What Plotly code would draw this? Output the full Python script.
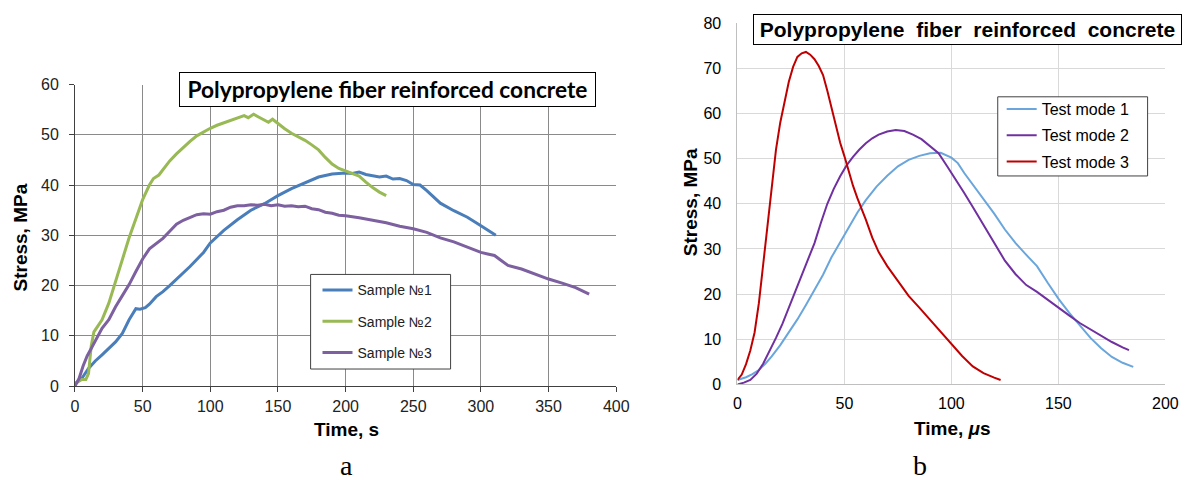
import plotly.graph_objects as go

# ---------------- Panel a data ----------------
s1_t = [0, 5, 10, 15, 20, 25, 30, 35, 40, 45, 48, 52, 55, 60, 65, 70, 75, 80, 85, 90, 95, 100,
        110, 120, 130, 140, 150, 160, 170, 180, 190, 200, 205, 210, 215, 220, 225, 230, 235,
        240, 245, 250, 255, 260, 265, 270, 280, 290, 300, 311]
s1_v = [0.5, 1.5, 3.5, 5.0, 6.2, 7.5, 8.8, 10.5, 13.2, 15.4, 15.3, 15.6, 16.3, 17.8, 18.8, 20.0,
        21.2, 22.5, 23.8, 25.2, 26.6, 28.5, 31.0, 33.1, 35.0, 36.3, 37.9, 39.3, 40.5, 41.6, 42.2,
        42.4, 42.3, 42.6, 42.1, 41.9, 41.6, 41.8, 41.2, 41.3, 40.9, 40.1, 40.0, 38.9, 37.6, 36.4,
        34.9, 33.6, 31.9, 30.0]

s2_t = [0, 3, 5, 8, 10, 12, 14, 17, 20, 25, 30, 35, 40, 45, 50, 55, 58, 62, 66, 70, 75, 80, 85,
        90, 95, 100, 105, 110, 115, 120, 125, 128, 132, 136, 140, 143, 146, 150, 155, 160, 165,
        170, 175, 180, 185, 190, 195, 200, 205, 210, 215, 220, 225, 230]
s2_v = [0.5, 1.0, 1.3, 1.3, 2.5, 8.0, 10.8, 12.0, 13.2, 16.5, 20.8, 25.4, 29.5, 33.3, 37.1, 40.0,
        41.3, 42.0, 43.5, 44.8, 46.2, 47.5, 48.7, 49.8, 50.6, 51.3, 51.9, 52.4, 52.9, 53.3, 53.8,
        53.4, 54.1, 53.5, 52.9, 52.5, 53.1, 52.2, 51.2, 50.3, 49.6, 48.9, 48.0, 47.0, 45.5, 44.2,
        43.3, 42.8, 42.4, 41.8, 40.6, 39.5, 38.6, 37.9]

s3_t = [0, 3, 6, 9, 12, 15, 20, 25, 30, 35, 40, 45, 50, 55, 60, 65, 70, 75, 80, 85, 90, 95, 100,
        105, 110, 115, 120, 125, 130, 135, 140, 145, 150, 155, 160, 165, 170, 175, 180, 185, 190,
        195, 200, 210, 220, 230, 240, 250, 260, 270, 280, 290, 300, 305, 310, 315, 320, 330, 340,
        350, 360, 370, 380]
s3_v = [0.0, 1.5, 4.0, 6.0, 7.5, 9.0, 11.5, 13.2, 15.8, 18.0, 20.2, 22.8, 25.3, 27.3, 28.3, 29.4,
        30.8, 32.2, 33.0, 33.6, 34.1, 34.3, 34.2, 34.7, 35.0, 35.6, 35.9, 35.9, 36.1, 36.0, 36.2,
        35.9, 36.1, 35.8, 35.9, 35.7, 35.8, 35.3, 35.1, 34.6, 34.4, 34.0, 33.9, 33.5, 33.0, 32.5,
        31.8, 31.3, 30.6, 29.5, 28.7, 27.6, 26.6, 26.3, 26.0, 25.0, 24.0, 23.3, 22.3, 21.3, 20.5,
        19.6, 18.3]

# ---------------- Panel b data ----------------
m1_t = [0, 2, 4, 7, 10, 13, 16, 20, 24, 28, 32, 36, 40, 44, 48, 52, 56, 60, 65, 70, 75, 80, 85,
        90, 95, 100, 103, 106, 110, 115, 120, 125, 130, 135, 140, 145, 150, 155, 160, 165, 170,
        175, 180, 185]
m1_v = [1.0, 1.3, 1.6, 2.3, 3.2, 4.6, 6.2, 8.7, 11.5, 14.4, 17.6, 20.9, 24.3, 28.2, 31.5, 34.8,
        38.0, 40.8, 43.8, 46.2, 48.3, 49.7, 50.6, 51.2, 51.3, 50.2, 49.0, 46.8, 44.3, 41.2, 37.8,
        34.3, 31.3, 28.7, 26.2, 22.5, 19.0, 15.9, 13.0, 10.3, 8.0, 6.1, 4.8, 3.9]

m2_t = [0, 3, 6, 9, 12, 15, 18, 21, 24, 27, 30, 33, 36, 39, 42, 45, 48, 51, 54, 57, 60, 63, 66,
        70, 74, 78, 82, 86, 90, 94, 98, 102, 106, 110, 115, 120, 125, 130, 135, 140, 145, 150,
        155, 160, 165, 170, 175, 180, 183]
m2_v = [0.0, 0.4, 1.0, 2.4, 4.6, 7.4, 10.3, 13.4, 16.9, 20.4, 24.1, 27.8, 31.3, 35.8, 40.0, 43.3,
        46.1, 48.5, 50.4, 52.0, 53.4, 54.5, 55.3, 56.0, 56.3, 56.1, 55.3, 54.3, 52.8, 51.2, 48.3,
        45.4, 42.4, 39.3, 35.3, 31.3, 27.4, 24.4, 22.0, 20.5, 18.7, 17.1, 15.3, 13.6, 12.2, 10.8,
        9.4, 8.2, 7.6]

m3_t = [0, 2, 4, 6, 8, 10, 12, 14, 16, 18, 20, 22, 24, 26, 28, 30, 32, 34, 36, 38, 40, 42, 44,
        46, 48, 50, 52, 54, 56, 58, 60, 63, 66, 70, 75, 80, 85, 90, 95, 100, 105, 110, 115, 120,
        123]
m3_v = [1.0, 2.2, 4.5, 7.5, 11.5, 18.0, 26.5, 35.5, 44.5, 52.0, 58.0, 62.5, 67.0, 70.3, 72.5,
        73.3, 73.6, 73.0, 72.0, 70.5, 68.5, 65.0, 61.0, 57.0, 53.5, 50.5, 47.0, 44.0, 41.3, 39.0,
        36.5, 32.5, 29.3, 26.2, 22.8, 19.6, 17.0, 14.3, 11.5, 9.0, 6.3, 4.0, 2.5, 1.5, 1.0]

names_a = ["Sample №1", "Sample №2", "Sample №3"]
names_b = ["Test mode 1", "Test mode 2", "Test mode 3"]
colors_a = ["#4A7EBB", "#98B954", "#7D60A0"]
colors_b = ["#6AA6DC", "#7030A0", "#C00000"]

W, H = 1202, 490


def px(x):
    return x / W


def py(y):
    return 1 - y / H


fig = go.Figure()

for i, (t, v) in enumerate([(s1_t, s1_v), (s2_t, s2_v), (s3_t, s3_v)]):
    fig.add_trace(go.Scatter(x=t, y=v, mode="lines", name=names_a[i],
                             line=dict(color=colors_a[i], width=3),
                             xaxis="x", yaxis="y", legend="legend",
                             legendgroup="a%d" % i))

for i, (t, v) in enumerate([(m1_t, m1_v), (m2_t, m2_v), (m3_t, m3_v)]):
    fig.add_trace(go.Scatter(x=t, y=v, mode="lines", name=names_b[i],
                             line=dict(color=colors_b[i], width=2),
                             xaxis="x2", yaxis="y2", legend="legend2",
                             legendgroup="b%d" % i))

tickfont = dict(family="Arial, Liberation Sans", size=16, color="#222")
tickfont2 = dict(family="Arial, Liberation Sans", size=16, color="#000")

fig.update_layout(
    width=W, height=H,
    margin=dict(l=0, r=0, t=0, b=0),
    paper_bgcolor="white", plot_bgcolor="white",
    xaxis=dict(domain=[px(72), px(621)], range=[0, 400], dtick=50, tick0=0,
               showgrid=True, gridcolor="#8a8a8a", gridwidth=1,
               showline=True, linecolor="#404040", linewidth=1,
               ticks="outside", ticklen=5, tickcolor="#404040",
               ticklabelstandoff=1,
               tickfont=tickfont, zeroline=False, anchor="y"),
    yaxis=dict(domain=[py(391.7), py(79.3)], range=[0, 60], dtick=10, tick0=0,
               showgrid=True, gridcolor="#8a8a8a", gridwidth=1,
               showline=True, linecolor="#404040", linewidth=1,
               ticks="outside", ticklen=5, tickcolor="#404040",
               ticklabelstandoff=7,
               tickfont=tickfont, zeroline=False, anchor="x"),
    xaxis2=dict(domain=[px(744), px(1178)], range=[0, 200], dtick=50, tick0=0,
                showgrid=True, gridcolor="#d9d9d9", gridwidth=1,
                showline=True, linecolor="#bfbfbf", linewidth=1,
                ticks="", tickfont=tickfont2,
                ticklabelstandoff=4,
                zeroline=False, anchor="y2"),
    yaxis2=dict(domain=[py(390), py(15.6)], range=[0, 80], dtick=10, tick0=0,
                showgrid=True, gridcolor="#d9d9d9", gridwidth=1,
                showline=True, linecolor="#bfbfbf", linewidth=1,
                ticks="", tickfont=tickfont2,
                ticklabelstandoff=12,
                zeroline=False, anchor="x2"),
    legend=dict(x=px(318), y=py(276), xanchor="left", yanchor="top",
                bgcolor="rgba(0,0,0,0)", borderwidth=0,
                font=dict(family="Arial, Liberation Sans", size=14, color="#222"),
                tracegroupgap=10, itemwidth=30),
    legend2=dict(x=px(1012), y=py(87), xanchor="left", yanchor="top",
                 bgcolor="rgba(0,0,0,0)", borderwidth=0,
                 font=dict(family="Arial, Liberation Sans", size=16, color="#000"),
                 tracegroupgap=2.5, itemwidth=30),
    showlegend=True,
)

# legend frames
shapes = [
    dict(type="rect", xref="paper", yref="paper", x0=px(311), x1=px(453), y0=py(374), y1=py(276),
         line=dict(color="#404040", width=1), fillcolor="white", layer="above"),
    dict(type="rect", xref="paper", yref="paper", x0=px(1008), x1=px(1160), y0=py(174), y1=py(92),
         line=dict(color="#404040", width=1), fillcolor="white", layer="above"),
]
fig.update_layout(shapes=shapes)

ann = []
# titles
ann.append(dict(x=px(388.5), y=py(84.5), xref="paper", yref="paper",
                text="<b>Polypropylene fiber reinforced concrete</b>", showarrow=False,
                font=dict(family="Lato", size=22.7, color="#000"),
                bordercolor="#000", borderwidth=1, borderpad=0, bgcolor="white",
                width=415, height=33, xanchor="center", yanchor="middle"))
ann.append(dict(x=px(977.5), y=py(22.5), xref="paper", yref="paper",
                text="<b>Polypropylene  fiber  reinforced  concrete</b>", showarrow=False,
                font=dict(family="Arial, Liberation Sans", size=21, color="#000"),
                bordercolor="#000", borderwidth=1, borderpad=0, bgcolor="white",
                width=427, height=29, xanchor="center", yanchor="middle"))
# axis titles
lab = dict(family="Arial, Liberation Sans", size=19, color="#000")
common = dict(xref="paper", yref="paper", showarrow=False, xanchor="center", yanchor="middle")
ann.append(dict(x=px(17), y=py(238), textangle=-90, text="<b>Stress, MPa</b>", font=lab, **common))
ann.append(dict(x=px(347), y=py(437), text="<b>Time, s</b>", font=lab, **common))
ann.append(dict(x=px(696), y=py(201), textangle=-90, text="<b>Stress, MPa</b>", font=lab, **common))
ann.append(dict(x=px(962), y=py(436), text="<b>Time, <i>μ</i>s</b>", font=lab, **common))
# panel letters
letter = dict(family="Liberation Serif", size=28, color="#000")
ann.append(dict(x=px(347), y=py(474), text="a", font=letter, **common))
ann.append(dict(x=px(929), y=py(474), text="b", font=letter, **common))

fig.update_layout(annotations=ann)

fig.write_html("out.html")
